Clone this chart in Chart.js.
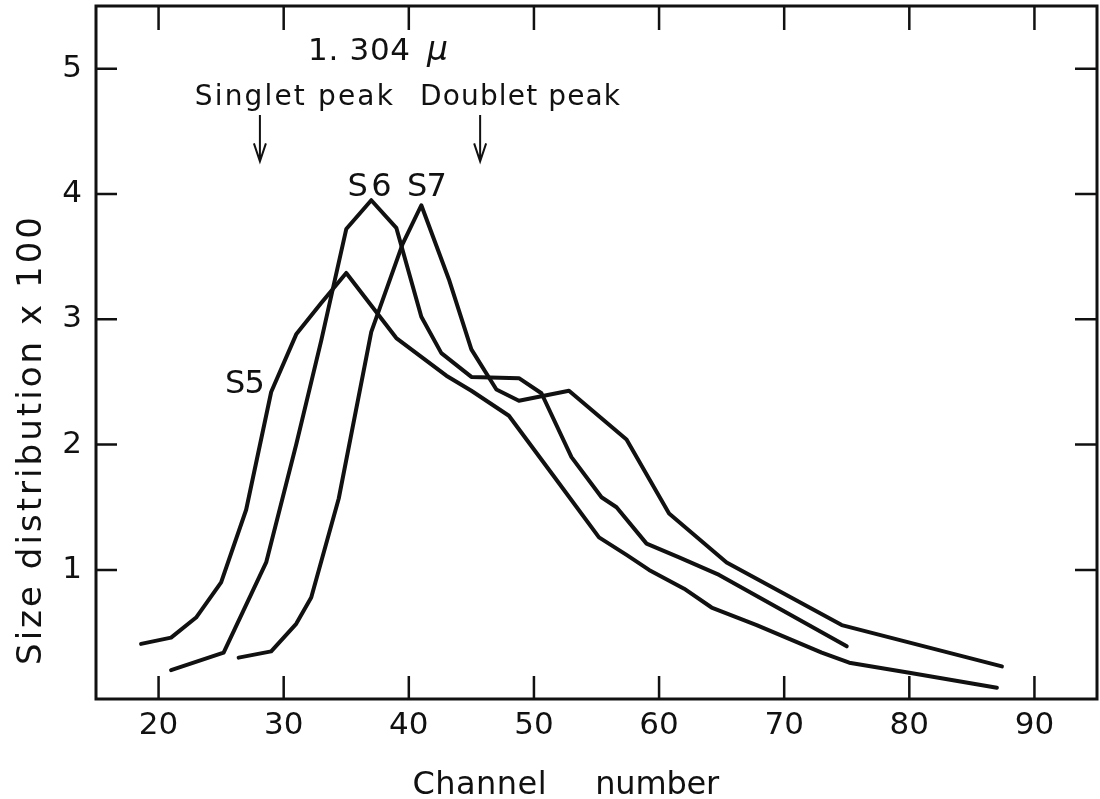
<!DOCTYPE html>
<html>
<head>
<meta charset="utf-8">
<script src="https://cdn.jsdelivr.net/npm/chart.js@4.4.1/dist/chart.umd.min.js"></script>
<style>
  html, body { margin: 0; padding: 0; background: #fff; }
  canvas { display: block; }
</style>
</head>
<body>
<canvas id="sizes" width="1100" height="799"></canvas>
<script>
// values (channel number, size distribution x 100)
const s5Channel = [18.6, 21, 23, 25, 27, 29, 31, 33, 35, 37, 39, 41, 43, 45, 48, 51.5, 55.2, 57.4, 59.2, 62, 64.2, 67.8, 73, 75.2, 80, 87];
const s5Value   = [0.41, 0.46, 0.62, 0.90, 1.48, 2.42, 2.88, 3.13, 3.37, 3.11, 2.85, 2.70, 2.55, 2.43, 2.23, 1.76, 1.26, 1.12, 1.00, 0.85, 0.70, 0.56, 0.34, 0.26, 0.18, 0.06];

const s6Channel = [21, 25.2, 28.6, 31, 33, 35, 37, 39, 41, 42.6, 45, 48.8, 50.6, 53, 55.4, 56.6, 59, 61.6, 64.8, 75];
const s6Value   = [0.20, 0.34, 1.06, 2.00, 2.83, 3.72, 3.95, 3.73, 3.02, 2.73, 2.54, 2.53, 2.41, 1.90, 1.58, 1.50, 1.21, 1.10, 0.96, 0.39];

const s7Channel = [26.4, 29, 31, 32.2, 34.4, 37, 39.5, 41, 43.2, 45, 47, 48.8, 52.8, 57.4, 60.8, 65.4, 74.6, 87.4];
const s7Value   = [0.30, 0.35, 0.57, 0.78, 1.57, 2.90, 3.60, 3.91, 3.32, 2.76, 2.44, 2.35, 2.43, 2.04, 1.45, 1.06, 0.56, 0.23];

const xTickValues = [20, 30, 40, 50, 60, 70, 80, 90];
const yTickValues = [1, 2, 3, 4, 5];

const FONT = '"DejaVu Sans", sans-serif';
const INK = '#111';

const toPoints = (xs, ys) => xs.map((x, i) => ({x: x, y: ys[i]}));

function fitText(ctx, text, x, y, width, font) {
  ctx.font = font;
  ctx.letterSpacing = '0px';
  const w = ctx.measureText(text).width;
  const gap = text.length > 1 ? (width - w) / (text.length - 1) : 0;
  ctx.letterSpacing = gap + 'px';
  ctx.textAlign = 'left';
  ctx.textBaseline = 'alphabetic';
  ctx.fillText(text, x, y);
  ctx.letterSpacing = '0px';
}

const paperFrame = {
  id: 'paperFrame',
  afterDraw(chart) {
    const ctx = chart.ctx;
    const xs = chart.scales.x;
    const ys = chart.scales.y;
    const a = chart.chartArea;
    const px = v => xs.getPixelForValue(v);
    const py = v => ys.getPixelForValue(v);
    ctx.save();
    ctx.strokeStyle = INK;
    ctx.fillStyle = INK;

    // frame
    ctx.lineWidth = 3;
    ctx.strokeRect(a.left, a.top, a.right - a.left, a.bottom - a.top);

    // inward ticks on all four sides
    ctx.lineWidth = 2.5;
    ctx.beginPath();
    xTickValues.forEach(v => {
      const x = px(v);
      ctx.moveTo(x, a.bottom); ctx.lineTo(x, a.bottom - 23);
      ctx.moveTo(x, a.top); ctx.lineTo(x, a.top + 24);
    });
    yTickValues.forEach(v => {
      const y = py(v);
      ctx.moveTo(a.left, y); ctx.lineTo(a.left + 21, y);
      ctx.moveTo(a.right, y); ctx.lineTo(a.right - 22, y);
    });
    ctx.stroke();

    // annotations
    fitText(ctx, '1. 304', px(31.95), py(5.07), 102, '31px ' + FONT);
    fitText(ctx, 'μ', px(41.45), py(5.07), 26, 'italic 33px ' + FONT);
    fitText(ctx, 'Singlet peak', px(22.9), py(4.71), 198, '28px ' + FONT);
    fitText(ctx, 'Doublet peak', px(40.9), py(4.71), 200, '28px ' + FONT);
    fitText(ctx, 'S6', px(35.1), py(3.98), 44, '32px ' + FONT);
    fitText(ctx, 'S7', px(39.85), py(3.98), 40, '32px ' + FONT);
    fitText(ctx, 'S5', px(25.3), py(2.41), 40, '32px ' + FONT);

    // arrows
    ctx.lineWidth = 2;
    [28.1, 45.7].forEach(c => {
      const x = px(c);
      const y0 = py(4.63), y1 = py(4.26);
      ctx.beginPath();
      ctx.moveTo(x, y0); ctx.lineTo(x, y1);
      ctx.moveTo(x - 6, y1 - 18); ctx.lineTo(x, y1); ctx.lineTo(x + 6, y1 - 18);
      ctx.stroke();
    });

    // axis titles
    fitText(ctx, 'Channel', px(40.3), 794, 134, '32px ' + FONT);
    fitText(ctx, 'number', px(54.9), 794, 124, '32px ' + FONT);

    ctx.translate(41, 441);
    ctx.rotate(-Math.PI / 2);
    fitText(ctx, 'Size distribution x 100', -224, 0, 448, '34px ' + FONT);
    ctx.restore();
  }
};

const lineStyle = {
  borderColor: INK,
  borderWidth: 4,
  pointRadius: 0,
  tension: 0,
  fill: false,
  borderJoinStyle: 'round',
  borderCapStyle: 'round'
};

new Chart(document.getElementById('sizes'), {
  type: 'line',
  data: {
    datasets: [
      Object.assign({label: 'S5', data: toPoints(s5Channel, s5Value)}, lineStyle),
      Object.assign({label: 'S6', data: toPoints(s6Channel, s6Value)}, lineStyle),
      Object.assign({label: 'S7', data: toPoints(s7Channel, s7Value)}, lineStyle)
    ]
  },
  options: {
    responsive: false,
    animation: false,
    layout: {padding: {top: 6, right: 3, left: 0, bottom: 0}},
    plugins: {legend: {display: false}, tooltip: {enabled: false}},
    scales: {
      x: {
        type: 'linear',
        min: 15,
        max: 95,
        afterBuildTicks: s => { s.ticks = xTickValues.map(v => ({value: v})); },
        afterFit: s => { s.height = 100; s.paddingLeft = 0; s.paddingRight = 0; },
        grid: {display: false, drawTicks: false},
        border: {display: false},
        ticks: {color: INK, padding: 8, font: {family: FONT, size: 31}, maxRotation: 0}
      },
      y: {
        type: 'linear',
        min: -0.03,
        max: 5.5,
        afterBuildTicks: s => { s.ticks = yTickValues.map(v => ({value: v})); },
        afterFit: s => { s.width = 96; s.paddingTop = 0; s.paddingBottom = 0; },
        grid: {display: false, drawTicks: false},
        border: {display: false},
        ticks: {color: INK, padding: 14, font: {family: FONT, size: 31}}
      }
    }
  },
  plugins: [paperFrame]
});
</script>
</body>
</html>
